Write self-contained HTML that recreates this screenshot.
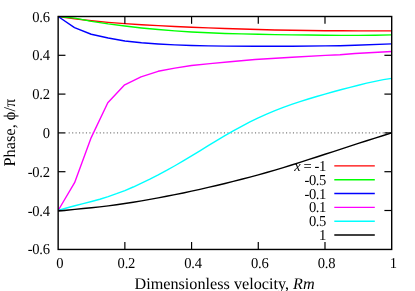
<!DOCTYPE html>
<html><head><meta charset="utf-8"><style>
html,body{margin:0;padding:0;background:#fff;}
svg{display:block;will-change:transform;transform:translateZ(0)}
text{text-rendering:geometricPrecision;font-family:"Liberation Serif",serif;fill:#000}
.t{font-size:14.6px;letter-spacing:-0.25px}
.l{letter-spacing:-0.42px}
</style></head><body>
<svg width="415" height="291" viewBox="0 0 415 291">
<rect width="415" height="291" fill="#fff"/>
<line x1="68.65" y1="132.80" x2="391.7" y2="132.80" stroke="#808080" stroke-width="1.25" stroke-dasharray="1.15,2.3"/>
<clipPath id="c"><rect x="57.449999999999996" y="15.8" width="334.95" height="234.20000000000002"/></clipPath><g clip-path="url(#c)">
<polyline fill="none" stroke="#ff0000" stroke-width="1.4" stroke-linejoin="round" points="58.15,16.50 74.83,18.88 91.50,20.79 108.18,22.35 124.86,23.63 141.54,24.71 158.22,25.65 174.89,26.48 191.57,27.22 208.25,27.90 224.93,28.51 241.60,29.06 258.28,29.55 274.96,29.96 291.64,30.29 308.31,30.54 324.99,30.71 341.67,30.81 358.34,30.85 375.02,30.85 391.70,30.87"/>
<polyline fill="none" stroke="#00ff00" stroke-width="1.4" stroke-linejoin="round" points="58.15,16.50 74.83,18.10 91.50,21.35 108.18,23.91 124.86,26.05 141.54,27.94 158.22,29.54 174.89,30.87 191.57,31.94 208.25,32.78 224.93,33.43 241.60,33.92 258.28,34.29 274.96,34.59 291.64,34.83 308.31,35.04 324.99,35.22 341.67,35.35 358.34,35.38 375.02,35.20 391.70,34.90"/>
<polyline fill="none" stroke="#0000ff" stroke-width="1.4" stroke-linejoin="round" points="58.15,16.50 74.50,27.55 91.20,34.25 108.20,38.00 124.90,41.00 141.50,42.80 158.10,44.00 174.80,44.90 191.50,45.50 208.20,45.90 225.50,46.15 255.00,46.25 292.10,46.30 325.40,45.90 340.00,45.70 355.00,45.20 391.70,43.85"/>
<polyline fill="none" stroke="#ff00ff" stroke-width="1.4" stroke-linejoin="round" points="58.15,210.50 74.60,182.70 91.20,137.60 107.80,102.70 124.20,85.20 141.00,76.80 158.10,71.30 174.80,68.10 191.50,65.50 210.00,63.60 230.00,61.70 255.00,59.50 292.10,57.30 325.40,55.40 340.00,54.70 355.00,53.50 391.70,51.50"/>
<polyline fill="none" stroke="#00ffff" stroke-width="1.4" stroke-linejoin="round" points="58.15,210.50 66.49,207.96 74.83,205.76 83.17,203.67 91.50,201.53 99.84,199.21 108.18,196.62 116.52,193.71 124.86,190.53 133.20,187.02 141.54,183.19 149.88,179.21 158.22,174.96 166.55,170.48 174.89,165.74 183.23,160.81 191.57,155.84 199.91,150.86 208.25,145.67 216.59,140.59 224.93,135.65 233.26,130.87 241.60,126.27 249.94,121.90 258.28,117.77 266.62,114.07 274.96,110.64 283.30,107.44 291.64,104.45 299.97,101.64 308.31,98.99 316.65,96.48 324.99,94.07 333.33,91.75 341.67,89.50 350.01,87.32 358.34,85.21 366.68,83.19 375.02,81.32 383.36,79.66 391.70,78.32"/>
<polyline fill="none" stroke="#000000" stroke-width="1.4" stroke-linejoin="round" points="58.15,211.10 66.49,210.30 74.83,209.41 83.17,208.55 91.50,207.74 99.84,206.83 108.18,205.82 116.52,204.71 124.86,203.52 133.20,202.23 141.54,200.87 149.88,199.43 158.22,197.91 166.55,196.31 174.89,194.66 183.23,192.95 191.57,191.17 199.91,189.32 208.25,187.42 216.59,185.45 224.93,183.45 233.26,181.40 241.60,179.30 249.94,177.15 258.28,174.85 266.62,172.51 274.96,170.13 283.30,167.64 291.64,165.02 299.97,162.37 308.31,159.70 316.65,157.00 324.99,154.28 333.33,151.56 341.67,148.85 350.01,146.14 358.34,143.42 366.68,140.77 375.02,138.15 383.36,135.52 391.70,132.90"/>
</g>
<line x1="334.3" y1="165.9" x2="374.8" y2="165.9" stroke="#ff0000" stroke-width="1.4"/>
<text class="t l" transform="translate(325.90,170.90) scale(1,1.04)" text-anchor="end"><tspan font-style="italic">x</tspan> = -1</text>
<line x1="334.3" y1="179.72" x2="374.8" y2="179.72" stroke="#00ff00" stroke-width="1.4"/>
<text class="t l" transform="translate(325.90,184.72) scale(1,1.04)" text-anchor="end">-0.5</text>
<line x1="334.3" y1="193.54" x2="374.8" y2="193.54" stroke="#0000ff" stroke-width="1.4"/>
<text class="t l" transform="translate(325.90,198.54) scale(1,1.04)" text-anchor="end">-0.1</text>
<line x1="334.3" y1="207.36" x2="374.8" y2="207.36" stroke="#ff00ff" stroke-width="1.4"/>
<text class="t l" transform="translate(325.90,212.36) scale(1,1.04)" text-anchor="end">0.1</text>
<line x1="334.3" y1="221.18" x2="374.8" y2="221.18" stroke="#00ffff" stroke-width="1.4"/>
<text class="t l" transform="translate(325.90,226.18) scale(1,1.04)" text-anchor="end">0.5</text>
<line x1="334.3" y1="235.0" x2="374.8" y2="235.0" stroke="#000000" stroke-width="1.4"/>
<text class="t l" transform="translate(325.90,240.00) scale(1,1.04)" text-anchor="end">1</text>
<rect x="58.15" y="16.5" width="333.55" height="232.95" fill="none" stroke="#000" stroke-width="1.4"/>
<text class="t" transform="translate(59.65,268.00) scale(1,1.04)" text-anchor="middle">0</text>
<line x1="124.86" y1="249.3" x2="124.86" y2="242.0" stroke="#000" stroke-width="1.2"/>
<line x1="124.86" y1="16.5" x2="124.86" y2="23.8" stroke="#000" stroke-width="1.2"/>
<text class="t" transform="translate(126.36,268.00) scale(1,1.04)" text-anchor="middle">0.2</text>
<line x1="191.57" y1="249.3" x2="191.57" y2="242.0" stroke="#000" stroke-width="1.2"/>
<line x1="191.57" y1="16.5" x2="191.57" y2="23.8" stroke="#000" stroke-width="1.2"/>
<text class="t" transform="translate(193.07,268.00) scale(1,1.04)" text-anchor="middle">0.4</text>
<line x1="258.28" y1="249.3" x2="258.28" y2="242.0" stroke="#000" stroke-width="1.2"/>
<line x1="258.28" y1="16.5" x2="258.28" y2="23.8" stroke="#000" stroke-width="1.2"/>
<text class="t" transform="translate(259.78,268.00) scale(1,1.04)" text-anchor="middle">0.6</text>
<line x1="324.99" y1="249.3" x2="324.99" y2="242.0" stroke="#000" stroke-width="1.2"/>
<line x1="324.99" y1="16.5" x2="324.99" y2="23.8" stroke="#000" stroke-width="1.2"/>
<text class="t" transform="translate(326.49,268.00) scale(1,1.04)" text-anchor="middle">0.8</text>
<text class="t" transform="translate(393.20,268.00) scale(1,1.04)" text-anchor="middle">1</text>
<text class="t" transform="translate(49.80,21.55) scale(1,1.04)" text-anchor="end">0.6</text>
<line x1="58.15" y1="55.30" x2="65.45" y2="55.30" stroke="#000" stroke-width="1.2"/>
<line x1="391.7" y1="55.30" x2="384.4" y2="55.30" stroke="#000" stroke-width="1.2"/>
<text class="t" transform="translate(49.80,60.35) scale(1,1.04)" text-anchor="end">0.4</text>
<line x1="58.15" y1="94.10" x2="65.45" y2="94.10" stroke="#000" stroke-width="1.2"/>
<line x1="391.7" y1="94.10" x2="384.4" y2="94.10" stroke="#000" stroke-width="1.2"/>
<text class="t" transform="translate(49.80,99.15) scale(1,1.04)" text-anchor="end">0.2</text>
<line x1="58.15" y1="132.90" x2="65.45" y2="132.90" stroke="#000" stroke-width="1.2"/>
<line x1="391.7" y1="132.90" x2="384.4" y2="132.90" stroke="#000" stroke-width="1.2"/>
<text class="t" transform="translate(49.80,137.95) scale(1,1.04)" text-anchor="end">0</text>
<line x1="58.15" y1="171.70" x2="65.45" y2="171.70" stroke="#000" stroke-width="1.2"/>
<line x1="391.7" y1="171.70" x2="384.4" y2="171.70" stroke="#000" stroke-width="1.2"/>
<text class="t" transform="translate(49.80,176.75) scale(1,1.04)" text-anchor="end">-0.2</text>
<line x1="58.15" y1="210.50" x2="65.45" y2="210.50" stroke="#000" stroke-width="1.2"/>
<line x1="391.7" y1="210.50" x2="384.4" y2="210.50" stroke="#000" stroke-width="1.2"/>
<text class="t" transform="translate(49.80,215.55) scale(1,1.04)" text-anchor="end">-0.4</text>
<text class="t" transform="translate(49.80,254.35) scale(1,1.04)" text-anchor="end">-0.6</text>
<text x="224.6" y="288.9" text-anchor="middle" style="font-size:16.2px">Dimensionless velocity, <tspan font-style="italic">Rm</tspan></text>
<text transform="translate(14.7,132.65) rotate(-90)" text-anchor="middle" style="font-size:16.4px">Phase, ϕ/π</text>
</svg></body></html>
